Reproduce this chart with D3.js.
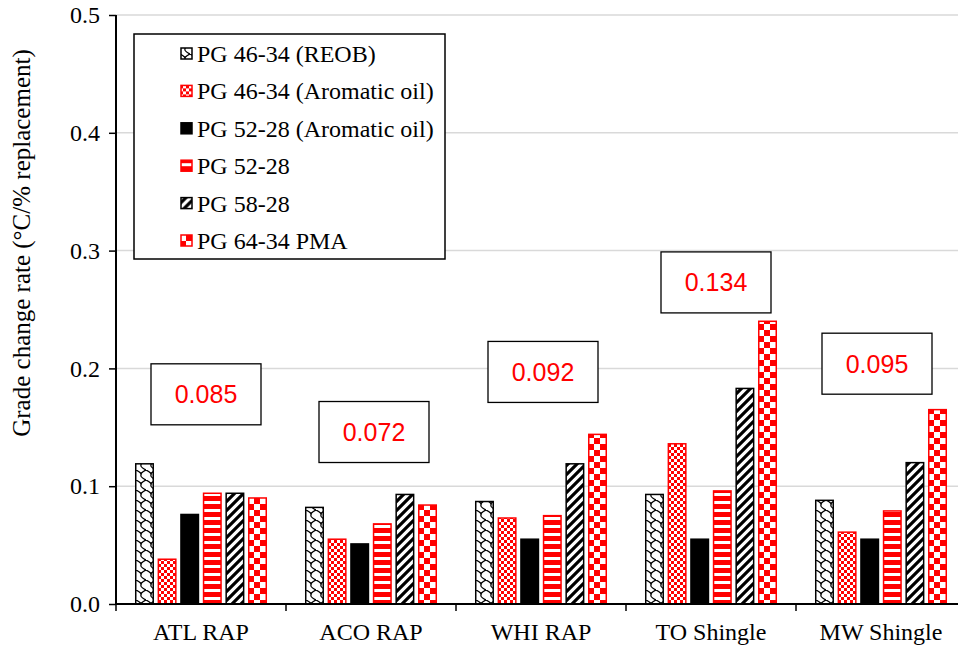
<!DOCTYPE html>
<html>
<head>
<meta charset="utf-8">
<script src="https://cdn.jsdelivr.net/npm/d3@7"></script>
<style>
  html, body { margin: 0; padding: 0; background: #fff; }
  svg { display: block; }
</style>
</head>
<body>
<svg id="chart" width="958" height="646"></svg>
<script>
// Binder sources (x groups)
const categories = ["ATL RAP", "ACO RAP", "WHI RAP", "TO Shingle", "MW Shingle"];

// Virgin binder series
const seriesNames = [
  "PG 46-34 (REOB)",
  "PG 46-34 (Aromatic oil)",
  "PG 52-28 (Aromatic oil)",
  "PG 52-28",
  "PG 58-28",
  "PG 64-34 PMA"
];

// Grade change rate (°C per % replacement), one array per series, ordered by category
const reob46     = [0.119, 0.082, 0.087, 0.093, 0.088];
const arom46     = [0.038, 0.055, 0.073, 0.136, 0.061];
const arom52     = [0.076, 0.051, 0.055, 0.055, 0.055];
const pg5228     = [0.094, 0.068, 0.075, 0.096, 0.079];
const pg5828     = [0.094, 0.093, 0.119, 0.183, 0.120];
const pma6434    = [0.090, 0.084, 0.144, 0.240, 0.165];

const seriesValues = [reob46, arom46, arom52, pg5228, pg5828, pma6434];

// Y axis ticks
const yTicks = [0.0, 0.1, 0.2, 0.3, 0.4, 0.5];

// Vertical placement of each group's average box, in axis units
const avgBoxCenter = [0.178, 0.146, 0.197, 0.273, 0.204];
const avgBoxShift = [5, 3, 2, 5, -4];

const SERIF = "'Liberation Serif', 'Times New Roman', Times, serif";
const SANS = "'Liberation Sans', Arial, sans-serif";

const svg = d3.select("#chart");
const W = 958, H = 646;
const plot = { left: 116, top: 15, right: 966, bottom: 604 };

const defs = svg.append("defs");

// Fill patterns for the six series
function pat(id, w, h) {
  return defs.append("pattern").attr("id", id)
    .attr("patternUnits", "userSpaceOnUse").attr("width", w).attr("height", h);
}
// 0: shingle/scale pattern, black on white
{
  const p = pat("p0", 10, 10);
  p.append("rect").attr("width", 10).attr("height", 10).attr("fill", "#fff");
  p.append("path").attr("d", "M0,0 Q6,3 5,5 Q4,7 10,10 M10,0 Q4,3 5,5")
    .attr("fill", "none").attr("stroke", "#000").attr("stroke-width", 1.3);
}
// 1: small checkerboard, red
{
  const p = pat("p1", 6, 6);
  p.append("rect").attr("width", 6).attr("height", 6).attr("fill", "#fff");
  p.append("rect").attr("width", 3).attr("height", 3).attr("fill", "#ff0000");
  p.append("rect").attr("x", 3).attr("y", 3).attr("width", 3).attr("height", 3).attr("fill", "#ff0000");
}
// 3: horizontal stripes, red
{
  const p = pat("p3", 8, 8);
  p.append("rect").attr("width", 8).attr("height", 8).attr("fill", "#fff");
  p.append("rect").attr("width", 8).attr("height", 5).attr("fill", "#ff0000");
}
// 4: wide upward diagonal, black
{
  const p = pat("p4", 9, 9);
  p.append("rect").attr("width", 9).attr("height", 9).attr("fill", "#fff");
  p.append("path").attr("d", "M-2,11 L11,-2 M-2,2 L2,-2 M7,11 L11,7")
    .attr("stroke", "#000").attr("stroke-width", 3.2);
}
// 5: large checkerboard, red
{
  const p = pat("p5", 12, 12);
  p.append("rect").attr("width", 12).attr("height", 12).attr("fill", "#fff");
  p.append("rect").attr("width", 6).attr("height", 6).attr("fill", "#ff0000");
  p.append("rect").attr("x", 6).attr("y", 6).attr("width", 6).attr("height", 6).attr("fill", "#ff0000");
}

const seriesFill = ["url(#p0)", "url(#p1)", "#000", "url(#p3)", "url(#p4)", "url(#p5)"];
const seriesStroke = ["#000", "#ff0000", "#000", "#ff0000", "#000", "#ff0000"];

// Scales
const x0 = d3.scaleBand().domain(categories).range([plot.left, plot.right]).padding(0);
const x1 = d3.scaleBand().domain(d3.range(seriesNames.length))
  .range([0, x0.bandwidth()]).paddingInner(0.16).paddingOuter(0.84);
const y = d3.scaleLinear().domain([0, 0.5]).range([plot.bottom, plot.top]);

// Gridlines
svg.append("g").selectAll("line").data(yTicks.slice(1)).join("line")
  .attr("x1", plot.left).attr("x2", W)
  .attr("y1", d => y(d)).attr("y2", d => y(d))
  .attr("stroke", "#d9d9d9").attr("stroke-width", 1.5);

// Bars
const groups = svg.append("g").selectAll("g").data(categories).join("g")
  .attr("transform", d => `translate(${x0(d)},0)`);
groups.selectAll("rect")
  .data((c, ci) => seriesValues.map((vals, si) => ({ si, v: vals[ci] })))
  .join("rect")
  .attr("x", d => x1(d.si) + 0.75)
  .attr("width", x1.bandwidth() - 1.5)
  .attr("y", d => y(d.v))
  .attr("height", d => y(0) - y(d.v))
  .attr("fill", d => seriesFill[d.si])
  .attr("stroke", d => seriesStroke[d.si])
  .attr("stroke-width", 1.5);

// Y axis
const yAxis = svg.append("g").attr("transform", `translate(${plot.left},0)`)
  .call(d3.axisLeft(y).tickValues(yTicks).tickFormat(d3.format(".1f")).tickSize(7).tickPadding(9));
yAxis.attr("font-family", SERIF).attr("font-size", 24);
yAxis.select(".domain").attr("stroke", "#000").attr("stroke-width", 2)
  .attr("d", `M0,${plot.top}V${plot.bottom}`);
yAxis.selectAll(".tick line").attr("stroke", "#000").attr("stroke-width", 1.5);
yAxis.selectAll(".tick text").attr("fill", "#000")
  .attr("font-family", SERIF).attr("font-size", 24);

// X axis
const xAxis = svg.append("g").attr("transform", `translate(0,${plot.bottom})`);
xAxis.append("line").attr("x1", plot.left).attr("x2", W).attr("y1", 0).attr("y2", 0)
  .attr("stroke", "#000").attr("stroke-width", 2);
const boundaries = categories.map(c => x0(c)).concat([x0(categories[categories.length - 1]) + x0.bandwidth()]);
xAxis.selectAll("line.tk").data(boundaries).join("line").attr("class", "tk")
  .attr("x1", d => d).attr("x2", d => d).attr("y1", 0).attr("y2", 7)
  .attr("stroke", "#000").attr("stroke-width", 1.5);
xAxis.selectAll("text").data(categories).join("text")
  .attr("x", d => x0(d) + x0.bandwidth() / 2)
  .attr("y", 36)
  .attr("text-anchor", "middle")
  .attr("font-family", SERIF)
  .attr("font-size", 24)
  .text(d => d);

// Y title
svg.append("text")
  .attr("transform", "translate(30,243) rotate(-90)")
  .attr("text-anchor", "middle")
  .attr("font-family", SERIF)
  .attr("font-size", 25)
  .text("Grade change rate (°C/% replacement)");

// Group average boxes
const avgs = categories.map((c, ci) => d3.mean(seriesValues, s => s[ci]));
const boxW = 110, boxH = 61;
const boxes = svg.append("g").selectAll("g").data(categories).join("g")
  .attr("transform", (c, i) =>
    `translate(${x0(c) + x0.bandwidth() / 2 + avgBoxShift[i]},${y(avgBoxCenter[i])})`);
boxes.append("rect")
  .attr("x", -boxW / 2).attr("y", -boxH / 2).attr("width", boxW).attr("height", boxH)
  .attr("fill", "#fff").attr("stroke", "#000").attr("stroke-width", 1.3);
boxes.append("text")
  .attr("text-anchor", "middle").attr("y", 9)
  .attr("font-size", 25).attr("fill", "#ff0000")
  .attr("font-family", SANS)
  .text((c, i) => avgs[i].toFixed(3));

// Legend
const legend = svg.append("g");
legend.append("rect").attr("x", 134).attr("y", 34).attr("width", 311).attr("height", 225)
  .attr("fill", "#fff").attr("stroke", "#000").attr("stroke-width", 1.5);
const rows = legend.selectAll("g.row").data(seriesNames).join("g").attr("class", "row")
  .attr("transform", (d, i) => `translate(0,${54 + i * 37.4})`);
rows.append("rect").attr("x", 181).attr("y", -6).attr("width", 11).attr("height", 11)
  .attr("fill", (d, i) => seriesFill[i]).attr("stroke", (d, i) => seriesStroke[i]).attr("stroke-width", 1.5);
rows.append("text").attr("x", 197).attr("y", 8)
  .attr("font-family", SERIF).attr("font-size", 24).text(d => d);
</script>
</body>
</html>
